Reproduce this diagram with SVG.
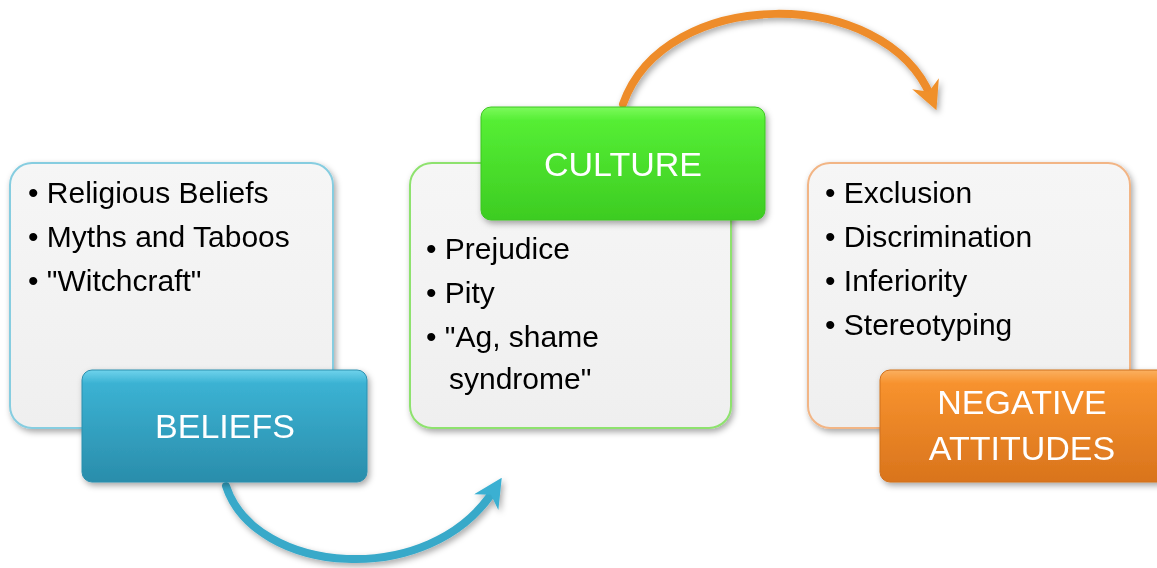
<svg xmlns="http://www.w3.org/2000/svg" width="1157" height="568" viewBox="0 0 1157 568">
<defs>
<style>
.box{stroke-width:2}
.item{font-family:"Liberation Sans",Arial,sans-serif;font-size:30px;fill:#000}
.tab{font-family:"Liberation Sans",Arial,sans-serif;font-size:34px;fill:#fff;text-anchor:middle}
.conn{fill:none;stroke-width:8;stroke-linecap:round}
</style>
<filter id="sh" x="-10%" y="-10%" width="125%" height="130%">
<feDropShadow dx="2" dy="3" stdDeviation="3" flood-color="#000" flood-opacity="0.35"/>
</filter>
<linearGradient id="gBox" x1="0" y1="0" x2="0" y2="1">
<stop offset="0" stop-color="#f6f6f6"/><stop offset="1" stop-color="#efefef"/>
</linearGradient>
<linearGradient id="gBlue" x1="0" y1="0" x2="0" y2="1">
<stop offset="0" stop-color="#6fd3ec"/><stop offset="0.12" stop-color="#3bb2d3"/><stop offset="1" stop-color="#2a8dab"/>
</linearGradient>
<linearGradient id="gGreen" x1="0" y1="0" x2="0" y2="1">
<stop offset="0" stop-color="#7cfa5c"/><stop offset="0.12" stop-color="#55ee34"/><stop offset="1" stop-color="#3dcc22"/>
</linearGradient>
<linearGradient id="gOrange" x1="0" y1="0" x2="0" y2="1">
<stop offset="0" stop-color="#fbb060"/><stop offset="0.12" stop-color="#f7922e"/><stop offset="1" stop-color="#d9741c"/>
</linearGradient>
<marker id="mBlue" viewBox="0 0 10 10" refX="5" refY="5" markerWidth="3.6" markerHeight="3.6" orient="auto" markerUnits="strokeWidth">
<path d="M0,0 L10,5 L0,10 L3,5 Z" fill="#3ab0d2"/>
</marker>
<marker id="mOrange" viewBox="0 0 10 10" refX="5" refY="5" markerWidth="3.6" markerHeight="3.6" orient="auto" markerUnits="strokeWidth">
<path d="M0,0 L10,5 L0,10 L3,5 Z" fill="#f0902c"/>
</marker>
</defs>
<rect width="1157" height="568" fill="#fff"/>

<g id="connectors" filter="url(#sh)">
<path class="conn" d="M226 486 C 255 575, 430 590, 494 490" stroke="#38a9c9" marker-end="url(#mBlue)"/>
<path class="conn" d="M623 104 C 665 -15, 885 -15, 931 97" stroke="#ee8c2a" marker-end="url(#mOrange)"/>
</g>

<g id="beliefs-box" filter="url(#sh)">
<rect class="box" x="10" y="163" width="323" height="265" rx="22" fill="url(#gBox)" stroke="#86cde0"/>
<text class="item" x="28" y="203">• Religious Beliefs</text>
<text class="item" x="28" y="247">• Myths and Taboos</text>
<text class="item" x="28" y="291">• "Witchcraft"</text>
</g>
<g id="beliefs-tab" filter="url(#sh)">
<rect x="82" y="370" width="285" height="112" rx="10" fill="url(#gBlue)" stroke="#2b8fae" stroke-width="1"/>
<text class="tab" x="225" y="438">BELIEFS</text>
</g>

<g id="culture-box" filter="url(#sh)">
<rect class="box" x="410" y="163" width="321" height="265" rx="22" fill="url(#gBox)" stroke="#8ee26e"/>
<text class="item" x="426" y="259">• Prejudice</text>
<text class="item" x="426" y="303">• Pity</text>
<text class="item" x="426" y="347">• "Ag, shame</text>
<text class="item" x="449" y="389">syndrome"</text>
</g>
<g id="culture-tab" filter="url(#sh)">
<rect x="481" y="107" width="284" height="113" rx="10" fill="url(#gGreen)" stroke="#3dc522" stroke-width="1"/>
<text class="tab" x="623" y="176">CULTURE</text>
</g>

<g id="attitudes-box" filter="url(#sh)">
<rect class="box" x="808" y="163" width="322" height="265" rx="22" fill="url(#gBox)" stroke="#f2b585"/>
<text class="item" x="825" y="203">• Exclusion</text>
<text class="item" x="825" y="247">• Discrimination</text>
<text class="item" x="825" y="291">• Inferiority</text>
<text class="item" x="825" y="335">• Stereotyping</text>
</g>
<g id="attitudes-tab" filter="url(#sh)">
<rect x="880" y="370" width="290" height="112" rx="10" fill="url(#gOrange)" stroke="#d0701c" stroke-width="1"/>
<text class="tab" x="1022" y="414">NEGATIVE</text>
<text class="tab" x="1022" y="460">ATTITUDES</text>
</g>
</svg>
